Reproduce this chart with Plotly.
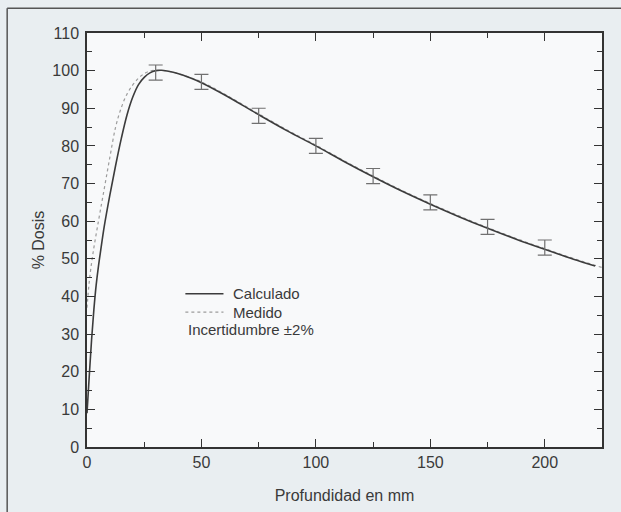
import plotly.graph_objects as go

# Calculated depth-dose curve (solid)
x_calc = [0, 1, 2, 3, 4, 5, 6, 7.5, 10, 12.5, 15, 17.5, 20, 22.5, 25, 27.5, 30, 32.5, 35,
          40, 45, 50, 60, 75, 87.5, 100, 112.5, 125, 137.5, 150, 162.5, 175, 187.5,
          200, 212.5, 222]
y_calc = [9, 19, 28.5, 36.5, 43, 48, 52.3, 58.5, 67, 74.8, 82, 88.3, 93, 96.3, 98.2, 99.4, 100,
          100.1, 99.9, 99.2, 98.1, 96.8, 93.6, 88.3, 84, 80, 75.8, 71.8, 68, 64.5,
          61.2, 58.1, 55.2, 52.5, 49.9, 48.1]

# Measured depth-dose curve (dotted)
x_med = [0, 1, 2.5, 5, 7.5, 10, 12.5, 15, 17.5, 20, 22.5, 25, 27.5, 30, 35, 40, 50,
         60, 75, 87.5, 100, 112.5, 125, 137.5, 150, 162.5, 175, 187.5, 200, 212.5, 226]
y_med = [37, 44, 51, 60, 68.5, 77, 85, 90.2, 93.8, 96.2, 98, 99.2, 99.9, 100.1, 99.9,
         99.2, 97, 93.8, 88.5, 84.2, 80.2, 76, 72, 68.2, 64.7, 61.4, 58.3, 55.4, 52.7,
         50.1, 47.5]

# Uncertainty bars (+-2%)
x_err = [30, 50, 75, 100, 125, 150, 175, 200]
y_err = [99.5, 97, 88, 80, 72, 65, 58.5, 53]
e_err = [2, 2, 2, 2, 2, 2, 2, 2]

x_ticks = [0, 50, 100, 150, 200]
y_ticks = [0, 10, 20, 30, 40, 50, 60, 70, 80, 90, 100, 110]

FONT = "Liberation Sans, Arial, sans-serif"
TXT = "#3a3a3a"
AX = "#333333"

fig = go.Figure()
fig.add_trace(go.Scatter(x=x_med, y=y_med, mode="lines", name="Medido",
                         line=dict(color="#9c9c9c", width=1.2, dash="dot", shape="spline"),
                         showlegend=False))
fig.add_trace(go.Scatter(x=x_calc, y=y_calc, mode="lines", name="Calculado",
                         line=dict(color="#3c3c3c", width=1.6, shape="spline"),
                         showlegend=False))
fig.add_trace(go.Scatter(x=x_err, y=y_err, mode="markers", name="Incertidumbre",
                         marker=dict(size=1, color="rgba(0,0,0,0)"),
                         error_y=dict(type="data", array=e_err, color="#707070",
                                      thickness=1.2, width=7),
                         showlegend=False))

axis_common = dict(showline=True, linecolor=AX, linewidth=1.5, mirror="ticks",
                   ticks="inside", tickcolor=AX, tickwidth=1.3, ticklen=8,
                   showgrid=False, zeroline=False,
                   tickfont=dict(family=FONT, size=16, color=TXT))

fig.update_xaxes(range=[0, 225], tickvals=x_ticks,
                 minor=dict(dtick=25, tick0=0, ticks="inside", ticklen=5,
                            tickcolor=AX, tickwidth=1.3, showgrid=False),
                 title=dict(text="Profundidad en mm", standoff=20,
                            font=dict(family=FONT, size=16, color=TXT)),
                 **axis_common)
fig.update_yaxes(range=[0, 110], tickvals=y_ticks,
                 minor=dict(dtick=5, tick0=0, ticks="inside", ticklen=5,
                            tickcolor=AX, tickwidth=1.3, showgrid=False),
                 title=dict(text="% Dosis", standoff=4,
                            font=dict(family=FONT, size=16, color=TXT)),
                 ticklabelstandoff=3,
                 **axis_common)

# Legend drawn inside plot
leg_x0, leg_x1 = 0.191, 0.265
fig.add_shape(type="line", xref="paper", yref="paper", x0=leg_x0, x1=leg_x1,
              y0=0.370, y1=0.370, line=dict(color="#3c3c3c", width=1.4))
fig.add_shape(type="line", xref="paper", yref="paper", x0=leg_x0, x1=leg_x1,
              y0=0.326, y1=0.326, line=dict(color="#9c9c9c", width=1.2, dash="dot"))
fig.add_annotation(xref="paper", yref="paper", x=0.279, y=0.370, text="Calculado",
                   showarrow=False, xanchor="left", yanchor="middle",
                   font=dict(family=FONT, size=15, color=TXT))
fig.add_annotation(xref="paper", yref="paper", x=0.279, y=0.326, text="Medido",
                   showarrow=False, xanchor="left", yanchor="middle",
                   font=dict(family=FONT, size=15, color=TXT))
fig.add_annotation(xref="paper", yref="paper", x=0.193, y=0.285,
                   text="Incertidumbre ±2%",
                   showarrow=False, xanchor="left", yanchor="middle",
                   font=dict(family=FONT, size=15, color=TXT))

# scan frame (left and top border)
fig.add_shape(type="line", xref="paper", yref="paper", x0=-0.155, x1=-0.155,
              y0=-0.16, y1=1.06, line=dict(color="#555555", width=1.5))
fig.add_shape(type="line", xref="paper", yref="paper", x0=-0.155, x1=1.05,
              y0=1.06, y1=1.06, line=dict(color="#555555", width=1.5))

fig.update_layout(width=621, height=512,
                  margin=dict(l=87, r=19, t=33, b=65, autoexpand=False),
                  paper_bgcolor="#e9eef1", plot_bgcolor="#f8f9fa",
                  font=dict(family=FONT, color=TXT))

fig.write_html("out.html")
